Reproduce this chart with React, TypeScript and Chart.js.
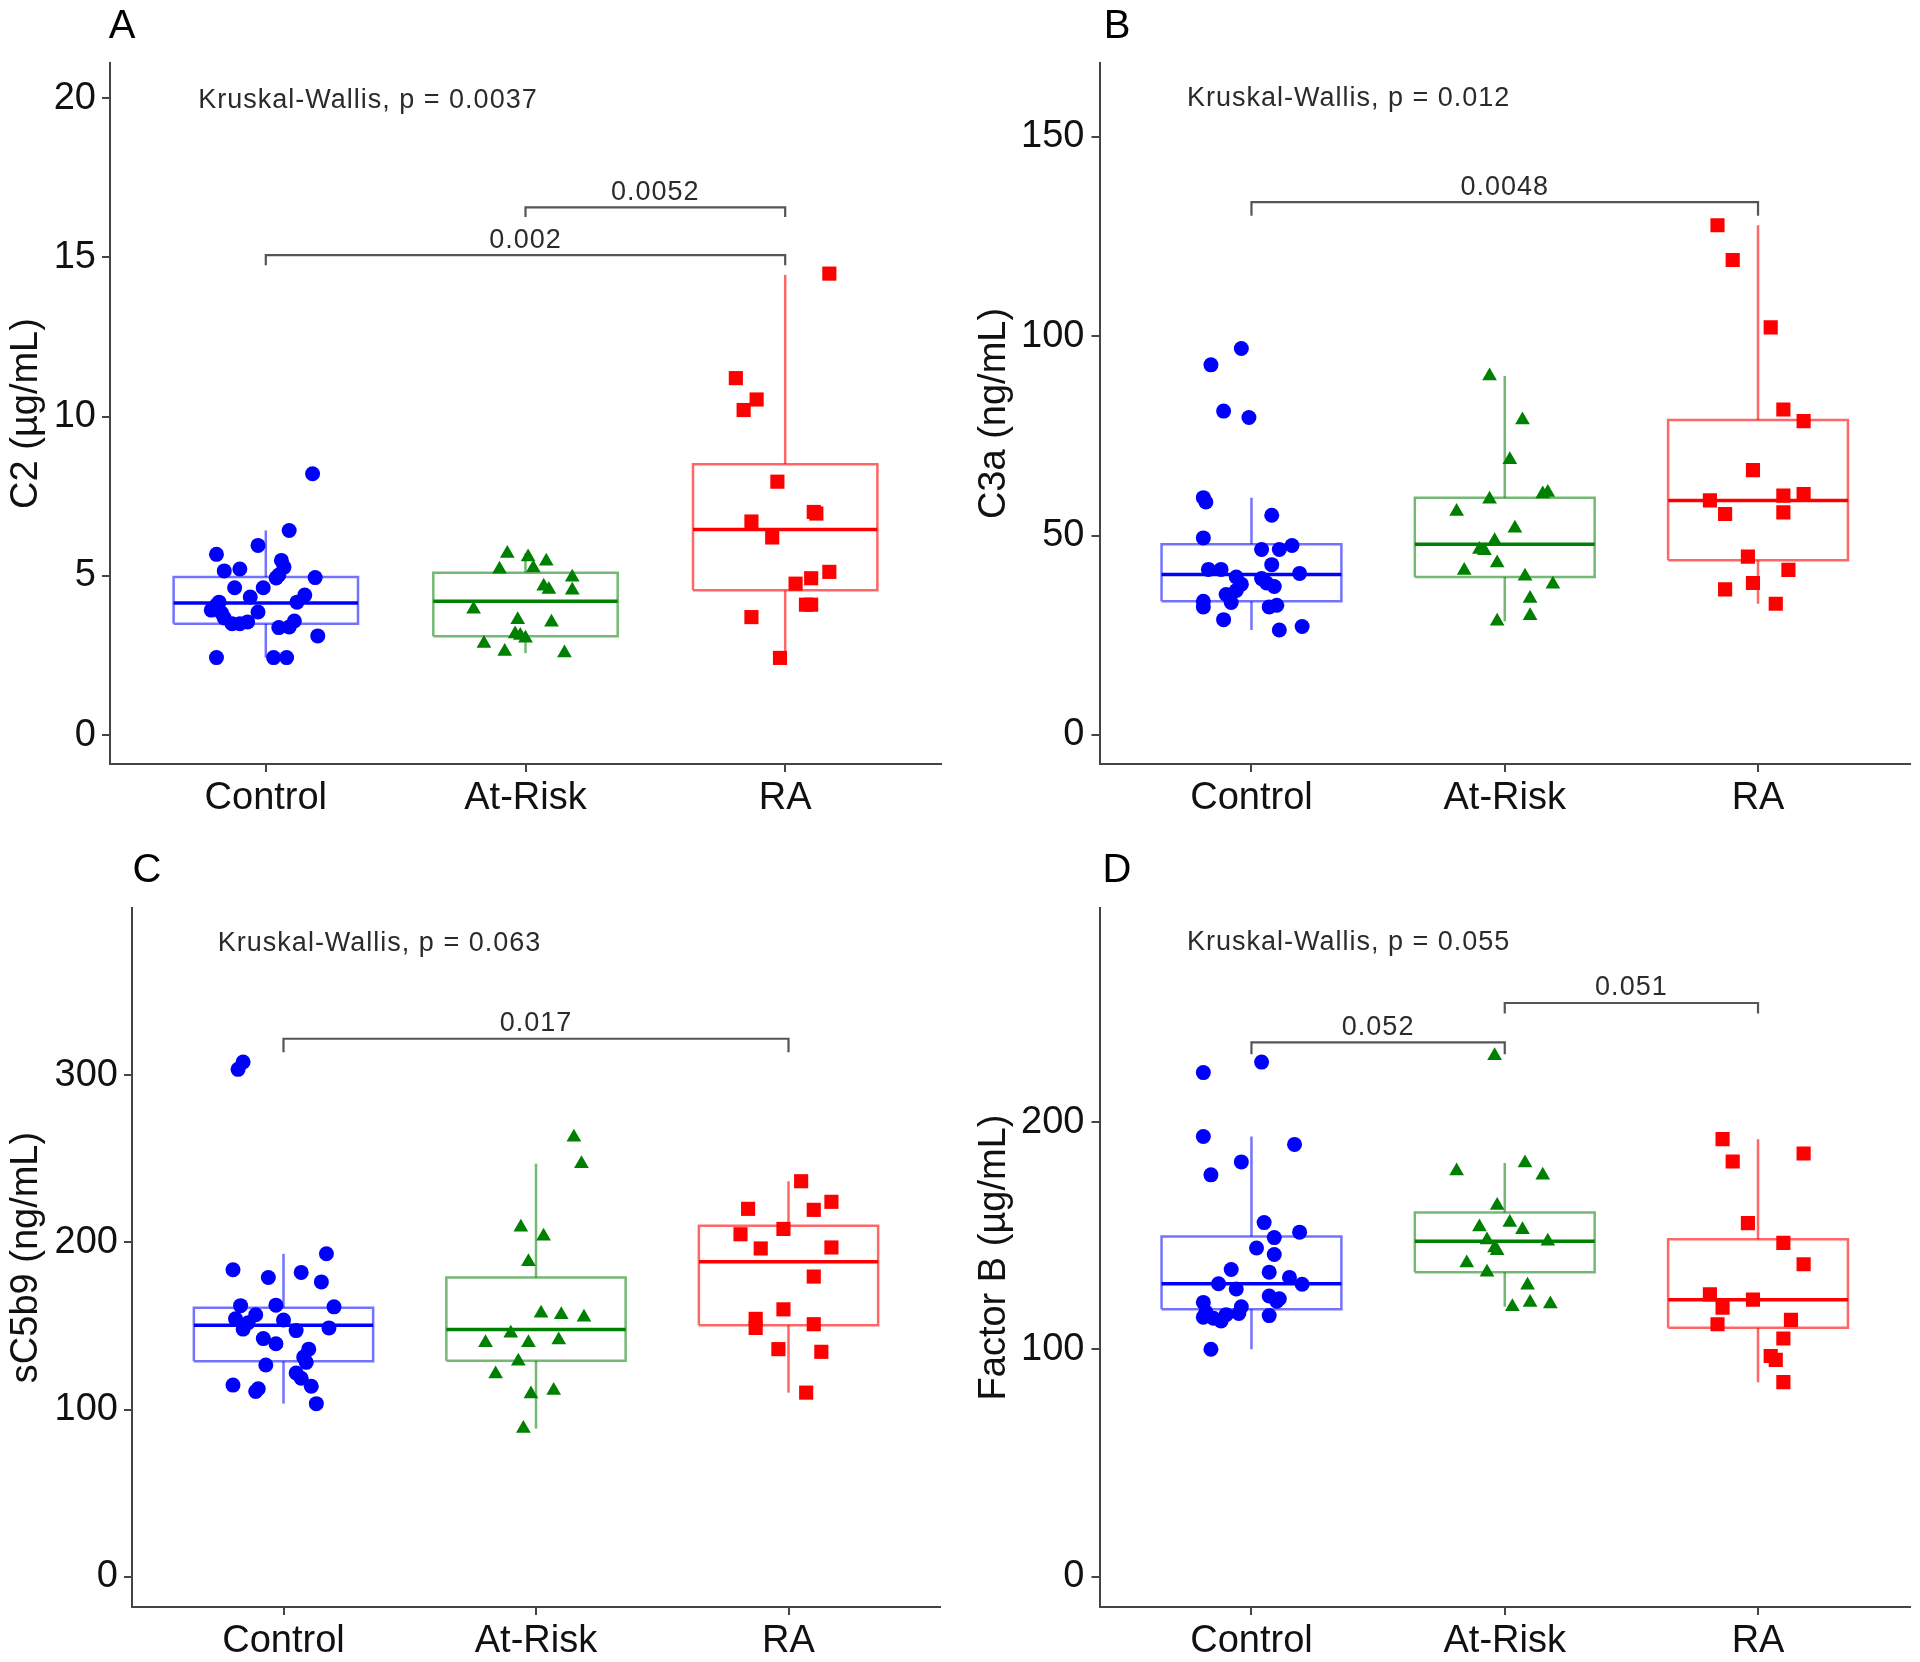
import React, { useEffect, useRef } from 'react';
import { Chart, registerables } from 'chart.js';

Chart.register(...registerables);

// ---------- shared ----------
const groups = ['Control', 'At-Risk', 'RA'];
const groupColors = ['#0000FF', '#008000', '#FF0000'];
const groupBoxColors = ['rgba(0,0,255,0.55)', 'rgba(0,128,0,0.55)', 'rgba(255,0,0,0.6)'];
const groupShapes = ['circle', 'triangle', 'rect'];
const groupRadius = [7.5, 8.5, 10];
const boxHalfWidth = 0.355;
const FONT = '"Liberation Sans", Arial, Helvetica, sans-serif';

// ---------- Panel A : C2 ----------
const c2ControlY = [8.21, 6.43, 5.96, 5.68, 5.49, 5.28, 5.22, 5.16, 5.03, 4.95, 4.94, 4.63, 4.63, 4.40, 4.34, 4.18, 4.18, 4.09, 3.93, 3.87, 3.84, 3.68, 3.59, 3.56, 3.50, 3.50, 3.40, 3.38, 3.12, 2.44, 2.44, 2.44];
const c2ControlJitter = [0.18, 0.09, -0.03, -0.19, 0.06, 0.07, -0.10, -0.16, 0.05, 0.19, 0.04, -0.12, -0.01, 0.15, -0.06, -0.18, 0.12, -0.19, -0.21, -0.03, -0.17, -0.16, 0.11, -0.07, -0.13, -0.10, 0.09, 0.05, 0.20, -0.19, 0.03, 0.08];
const c2AtRiskY = [5.71, 5.60, 5.46, 5.21, 5.25, 4.96, 4.68, 4.58, 4.55, 3.96, 3.63, 3.55, 3.18, 3.13, 3.05, 2.88, 2.63, 2.58];
const c2AtRiskJitter = [-0.07, 0.01, 0.08, -0.10, 0.03, 0.18, 0.07, 0.09, 0.18, -0.20, -0.03, 0.10, -0.04, -0.02, 0.0, -0.16, -0.08, 0.15];
const c2RaY = [14.49, 11.21, 10.54, 10.21, 7.96, 7.01, 6.96, 6.71, 6.21, 5.13, 4.93, 4.76, 4.10, 4.10, 3.71, 2.43];
const c2RaJitter = [0.17, -0.19, -0.11, -0.16, -0.03, 0.11, 0.12, -0.13, -0.05, 0.17, 0.10, 0.04, 0.08, 0.10, -0.13, -0.02];
const c2Q1 = [3.50, 3.11, 4.55];
const c2Median = [4.15, 4.21, 6.46];
const c2Q3 = [4.97, 5.10, 8.51];
const c2Low = [2.44, 2.58, 2.43];
const c2High = [6.43, 5.71, 14.45];
const c2Ticks = [0, 5, 10, 15, 20];
const c2BracketFrom = [1, 2];
const c2BracketTo = [3, 3];
const c2BracketY = [15.07, 16.57];
const c2BracketTip = [14.75, 16.27];
const c2BracketLabels = ['0.002', '0.0052'];

// ---------- Panel B : C3a ----------
const c3aControlY = [96.9, 92.8, 81.2, 79.6, 59.5, 58.4, 55.1, 49.4, 46.5, 47.5, 46.5, 41.5, 41.5, 42.7, 40.5, 39.6, 39.2, 37.8, 36.2, 37.2, 38.1, 33.2, 33.5, 32.1, 32.1, 32.5, 28.9, 26.3, 27.2, 35.2];
const c3aControlJitter = [-0.04, -0.16, -0.11, -0.01, -0.19, -0.18, 0.08, -0.19, 0.11, 0.16, 0.04, -0.17, -0.12, 0.08, 0.19, -0.06, 0.04, -0.04, -0.06, 0.09, 0.06, -0.08, -0.19, -0.19, 0.07, 0.10, -0.11, 0.11, 0.20, -0.10];
const c3aAtRiskY = [90.0, 79.0, 69.0, 60.8, 60.4, 59.1, 56.0, 51.8, 48.7, 46.5, 46.2, 43.1, 41.2, 39.8, 37.8, 34.2, 28.5, 29.9];
const c3aAtRiskJitter = [-0.06, 0.07, 0.02, 0.17, 0.15, -0.06, -0.19, 0.04, -0.04, -0.10, -0.08, -0.03, -0.16, 0.08, 0.19, 0.10, -0.03, 0.10];
const c3aRaY = [127.8, 119.1, 102.2, 81.6, 78.7, 66.4, 58.8, 60.0, 60.4, 55.4, 55.8, 44.7, 41.4, 38.1, 36.5, 32.9];
const c3aRaJitter = [-0.16, -0.10, 0.05, 0.10, 0.18, -0.02, -0.19, 0.10, 0.18, -0.13, 0.10, -0.04, 0.12, -0.02, -0.13, 0.07];
const c3aQ1 = [33.5, 39.6, 43.8];
const c3aMedian = [40.2, 47.8, 58.8];
const c3aQ3 = [47.8, 59.5, 79.0];
const c3aLow = [26.3, 28.5, 32.9];
const c3aHigh = [59.5, 90.0, 127.8];
const c3aTicks = [0, 50, 100, 150];
const c3aBracketFrom = [1];
const c3aBracketTo = [3];
const c3aBracketY = [133.6];
const c3aBracketTip = [130.2];
const c3aBracketLabels = ['0.0048'];

// ---------- Panel C : sC5b9 ----------
const sc5b9ControlY = [303.5, 307.9, 193.2, 183.7, 182.1, 179.0, 176.4, 162.2, 162.5, 161.5, 156.8, 154.3, 152.0, 153.6, 148.2, 147.3, 148.9, 142.5, 139.4, 136.2, 131.5, 128.3, 126.7, 121.9, 118.8, 114.7, 110.9, 114.0, 103.6, 112.5];
const sc5b9ControlJitter = [-0.18, -0.16, 0.17, -0.20, 0.07, -0.06, 0.15, -0.17, -0.03, 0.20, -0.11, -0.19, -0.14, 0.0, -0.16, 0.05, 0.18, -0.08, -0.03, 0.10, 0.08, 0.09, -0.07, 0.05, 0.07, -0.20, -0.11, 0.11, 0.13, -0.10];
const sc5b9AtRiskY = [262.9, 247.1, 209.1, 203.7, 188.5, 157.7, 156.8, 155.2, 145.7, 141.6, 140.0, 140.0, 128.9, 121.3, 109.3, 111.5, 88.7];
const sc5b9AtRiskJitter = [0.15, 0.18, -0.06, 0.03, -0.03, 0.02, 0.10, 0.19, -0.10, 0.09, -0.20, -0.03, -0.07, -0.16, -0.02, 0.07, -0.05];
const sc5b9RaY = [236.6, 224.3, 220.1, 219.5, 208.1, 204.9, 196.4, 197.0, 179.6, 160.0, 154.3, 148.9, 151.1, 136.2, 134.6, 110.2];
const sc5b9RaJitter = [0.05, 0.17, -0.16, 0.10, -0.02, -0.19, -0.11, 0.17, 0.10, -0.02, -0.13, -0.13, 0.10, -0.04, 0.13, 0.07];
const sc5b9Q1 = [128.9, 129.2, 150.5];
const sc5b9Median = [150.5, 147.9, 188.5];
const sc5b9Q3 = [160.9, 179.0, 210.0];
const sc5b9Low = [103.6, 88.7, 110.2];
const sc5b9High = [193.2, 247.1, 236.6];
const sc5b9Ticks = [0, 100, 200, 300];
const sc5b9BracketFrom = [1];
const sc5b9BracketTo = [3];
const sc5b9BracketY = [321.8];
const sc5b9BracketTip = [313.8];
const sc5b9BracketLabels = ['0.017'];

// ---------- Panel D : Factor B ----------
const fbControlY = [226.4, 221.8, 193.7, 190.2, 182.5, 176.8, 155.8, 151.6, 149.2, 144.6, 141.8, 135.2, 134.0, 131.7, 128.9, 128.7, 126.6, 123.5, 121.2, 120.7, 118.8, 116.5, 115.3, 113.7, 112.5, 114.9, 114.2, 100.1, 115.8, 122.3];
const fbControlJitter = [0.04, -0.19, -0.19, 0.17, -0.04, -0.16, 0.05, 0.19, 0.09, 0.02, 0.09, -0.08, 0.07, 0.15, -0.13, 0.20, -0.06, 0.07, 0.10, -0.19, -0.04, -0.18, -0.10, -0.15, -0.12, 0.07, -0.19, -0.16, -0.05, 0.11];
const fbAtRiskY = [229.2, 182.0, 178.5, 176.6, 163.3, 155.8, 153.9, 152.7, 148.1, 147.6, 143.4, 144.6, 138.0, 134.0, 128.2, 118.8, 120.7, 120.0];
const fbAtRiskJitter = [-0.04, 0.08, -0.19, 0.15, -0.03, 0.02, -0.10, 0.07, -0.07, 0.17, -0.03, -0.04, -0.15, -0.07, 0.09, 0.03, 0.10, 0.18];
const fbRaY = [192.5, 186.2, 182.7, 155.6, 146.9, 137.5, 124.2, 121.9, 118.4, 111.1, 113.0, 104.8, 97.1, 95.4, 85.6];
const fbRaJitter = [-0.14, 0.18, -0.10, -0.04, 0.10, 0.18, -0.19, -0.02, -0.14, -0.16, 0.13, 0.10, 0.05, 0.07, 0.10];
const fbQ1 = [117.7, 134.0, 109.5];
const fbMedian = [128.9, 147.6, 121.9];
const fbQ3 = [149.7, 160.2, 148.5];
const fbLow = [100.1, 118.8, 85.6];
const fbHigh = [193.7, 182.0, 192.5];
const fbTicks = [0, 100, 200];
const fbBracketFrom = [1, 2];
const fbBracketTo = [2, 3];
const fbBracketY = [235.1, 252.4];
const fbBracketTip = [229.9, 247.8];
const fbBracketLabels = ['0.052', '0.051'];

// ---------- panel definitions ----------
type PanelDef = {
  letter: string;
  yTitle: string;
  yMin: number;
  yMax: number;
  yTicks: number[];
  values: number[][];
  jitter: number[][];
  q1: number[];
  med: number[];
  q3: number[];
  lo: number[];
  hi: number[];
  kwText: string;
  kwX: number;
  kwY: number;
  bFrom: number[];
  bTo: number[];
  bY: number[];
  bTip: number[];
  bLabels: string[];
};

type PanelLayout = {
  left: number;
  top: number;
  w: number;
  h: number;
  chartLeft: number;
  chartRight: number;
  chartTop: number;
  chartBottom: number;
  titlePad: number;
  tickPad: number;
  letterX: number;
  letterY: number;
};

const panelA: PanelDef = {
  letter: 'A', yTitle: 'C2 (µg/mL)', yMin: -0.9, yMax: 21.1, yTicks: c2Ticks,
  values: [c2ControlY, c2AtRiskY, c2RaY], jitter: [c2ControlJitter, c2AtRiskJitter, c2RaJitter],
  q1: c2Q1, med: c2Median, q3: c2Q3, lo: c2Low, hi: c2High,
  kwText: 'Kruskal-Wallis, p = 0.0037', kwX: 0.74, kwY: 19.92,
  bFrom: c2BracketFrom, bTo: c2BracketTo, bY: c2BracketY, bTip: c2BracketTip, bLabels: c2BracketLabels,
};
const panelB: PanelDef = {
  letter: 'B', yTitle: 'C3a (ng/mL)', yMin: -7.3, yMax: 168.5, yTicks: c3aTicks,
  values: [c3aControlY, c3aAtRiskY, c3aRaY], jitter: [c3aControlJitter, c3aAtRiskJitter, c3aRaJitter],
  q1: c3aQ1, med: c3aMedian, q3: c3aQ3, lo: c3aLow, hi: c3aHigh,
  kwText: 'Kruskal-Wallis, p = 0.012', kwX: 0.745, kwY: 159.5,
  bFrom: c3aBracketFrom, bTo: c3aBracketTo, bY: c3aBracketY, bTip: c3aBracketTip, bLabels: c3aBracketLabels,
};
const panelC: PanelDef = {
  letter: 'C', yTitle: 'sC5b9 (ng/mL)', yMin: -18.0, yMax: 400.0, yTicks: sc5b9Ticks,
  values: [sc5b9ControlY, sc5b9AtRiskY, sc5b9RaY], jitter: [sc5b9ControlJitter, sc5b9AtRiskJitter, sc5b9RaJitter],
  q1: sc5b9Q1, med: sc5b9Median, q3: sc5b9Q3, lo: sc5b9Low, hi: sc5b9High,
  kwText: 'Kruskal-Wallis, p = 0.063', kwX: 0.74, kwY: 378.8,
  bFrom: sc5b9BracketFrom, bTo: sc5b9BracketTo, bY: sc5b9BracketY, bTip: sc5b9BracketTip, bLabels: sc5b9BracketLabels,
};
const panelD: PanelDef = {
  letter: 'D', yTitle: 'Factor B (µg/mL)', yMin: -13.3, yMax: 294.2, yTicks: fbTicks,
  values: [fbControlY, fbAtRiskY, fbRaY], jitter: [fbControlJitter, fbAtRiskJitter, fbRaJitter],
  q1: fbQ1, med: fbMedian, q3: fbQ3, lo: fbLow, hi: fbHigh,
  kwText: 'Kruskal-Wallis, p = 0.055', kwX: 0.745, kwY: 278.8,
  bFrom: fbBracketFrom, bTo: fbBracketTo, bY: fbBracketY, bTip: fbBracketTip, bLabels: fbBracketLabels,
};

const layoutA: PanelLayout = { left: 0, top: 2, w: 960, h: 831, chartLeft: 110, chartRight: 941, chartTop: 61, chartBottom: 762, titlePad: 4, tickPad: 6, letterX: 122, letterY: 25 };
const layoutB: PanelLayout = { left: 960, top: 2, w: 960, h: 831, chartLeft: 139.5, chartRight: 950, chartTop: 61, chartBottom: 762, titlePad: 11.5, tickPad: 7, letterX: 157, letterY: 25 };
const layoutC: PanelLayout = { left: 0, top: 833, w: 960, h: 829, chartLeft: 132, chartRight: 940, chartTop: 75, chartBottom: 774, titlePad: 4, tickPad: 6, letterX: 147, letterY: 38 };
const layoutD: PanelLayout = { left: 960, top: 833, w: 960, h: 829, chartLeft: 139.5, chartRight: 950, chartTop: 75, chartBottom: 774, titlePad: 11.5, tickPad: 7, letterX: 157, letterY: 38 };

function lineDs(points: number[][], color: string, width: number) {
  return {
    type: 'scatter',
    data: points.map(([x, y]) => ({ x, y })),
    showLine: true,
    borderColor: color,
    backgroundColor: color,
    borderWidth: width,
    pointRadius: 0,
    pointHoverRadius: 0,
    fill: false,
    tension: 0,
    order: 2,
  };
}

const annotationPlugin = {
  id: 'panelText',
  afterDatasetsDraw(chart: any, _args: any, opts: any) {
    const { ctx } = chart;
    const xs = chart.scales.x;
    const ys = chart.scales.y;
    const d: PanelDef = opts.def;
    const L: PanelLayout = opts.layout;
    ctx.save();
    ctx.fillStyle = '#2b2b2b';
    ctx.textBaseline = 'middle';
    (ctx as any).letterSpacing = '1px';
    ctx.font = `27px ${FONT}`;
    ctx.textAlign = 'left';
    ctx.fillText(d.kwText, xs.getPixelForValue(d.kwX), ys.getPixelForValue(d.kwY));
    ctx.textAlign = 'center';
    d.bLabels.forEach((lab, i) => {
      const cx = xs.getPixelForValue((d.bFrom[i] + d.bTo[i]) / 2);
      const cy = ys.getPixelForValue(d.bY[i]) - 15;
      ctx.fillText(lab, cx, cy);
    });
    (ctx as any).letterSpacing = '0px';
    ctx.fillStyle = '#000000';
    ctx.font = `40px ${FONT}`;
    ctx.fillText(d.letter, L.letterX, L.letterY);
    ctx.restore();
  },
};

function buildConfig(d: PanelDef, L: PanelLayout): any {
  const datasets: any[] = [];
  d.values.forEach((vals, g) => {
    datasets.push({
      type: 'scatter',
      label: groups[g],
      data: vals.map((v, i) => ({ x: g + 1 + d.jitter[g][i], y: v })),
      pointStyle: groupShapes[g],
      pointRadius: groupRadius[g],
      pointHoverRadius: groupRadius[g],
      backgroundColor: groupColors[g],
      borderColor: groupColors[g],
      borderWidth: 0,
      order: 0,
    });
  });
  d.q1.forEach((q1, g) => {
    const c = g + 1;
    const w = boxHalfWidth;
    const q3 = d.q3[g];
    datasets.push(lineDs([[c - w, q1], [c + w, q1], [c + w, q3], [c - w, q3], [c - w, q1]], groupBoxColors[g], 2.5));
    datasets.push(lineDs([[c, q3], [c, d.hi[g]]], groupBoxColors[g], 2.5));
    datasets.push(lineDs([[c, d.lo[g]], [c, q1]], groupBoxColors[g], 2.5));
    const med = lineDs([[c - w, d.med[g]], [c + w, d.med[g]]], groupColors[g], 3.5);
    med.order = 1;
    datasets.push(med);
  });
  d.bFrom.forEach((from, i) => {
    const to = d.bTo[i];
    datasets.push(lineDs([[from, d.bTip[i]], [from, d.bY[i]], [to, d.bY[i]], [to, d.bTip[i]]], '#555555', 2.2));
  });

  return {
    type: 'scatter',
    data: { datasets },
    plugins: [annotationPlugin],
    options: {
      responsive: false,
      devicePixelRatio: 1,
      animation: false,
      events: [],
      layout: { padding: { left: 0, top: L.chartTop, right: L.w - L.chartRight, bottom: 0 } },
      plugins: {
        legend: { display: false },
        tooltip: { enabled: false },
        panelText: { def: d, layout: L },
      },
      scales: {
        x: {
          type: 'linear',
          min: 0.4,
          max: 3.6,
          afterFit: (s: any) => { s.height = L.h - L.chartBottom; },
          afterBuildTicks: (s: any) => { s.ticks = groups.map((_, i) => ({ value: i + 1 })); },
          ticks: {
            autoSkip: false,
            maxRotation: 0,
            padding: 4,
            color: '#111111',
            font: { family: FONT, size: 38 },
            callback: (v: any) => groups[Math.round(Number(v)) - 1] ?? '',
          },
          grid: { drawOnChartArea: false, drawTicks: true, tickLength: 8, color: '#444444', lineWidth: 2 },
          border: { display: true, color: '#444444', width: 2 },
        },
        y: {
          type: 'linear',
          min: d.yMin,
          max: d.yMax,
          afterFit: (s: any) => { s.width = L.chartLeft; },
          afterBuildTicks: (s: any) => { s.ticks = d.yTicks.map((v) => ({ value: v })); },
          ticks: {
            padding: L.tickPad,
            color: '#111111',
            font: { family: FONT, size: 38 },
            callback: (v: any) => String(v),
          },
          title: {
            display: true,
            text: d.yTitle,
            color: '#111111',
            font: { family: FONT, size: 38 },
            padding: { top: L.titlePad, bottom: 0 },
          },
          grid: { drawOnChartArea: false, drawTicks: true, tickLength: 8, color: '#444444', lineWidth: 2 },
          border: { display: true, color: '#444444', width: 2 },
        },
      },
    },
  };
}

function Panel({ def, layout }: { def: PanelDef; layout: PanelLayout }) {
  const ref = useRef<HTMLCanvasElement>(null);
  useEffect(() => {
    const chart = new Chart(ref.current as HTMLCanvasElement, buildConfig(def, layout));
    return () => chart.destroy();
  }, [def, layout]);
  return (
    <canvas
      ref={ref}
      width={layout.w}
      height={layout.h}
      style={{ position: 'absolute', left: layout.left, top: layout.top, width: layout.w, height: layout.h, display: 'block' }}
    />
  );
}

export default function App() {
  return (
    <div style={{ position: 'absolute', left: 0, top: 0, width: 1920, height: 1662, background: '#ffffff', overflow: 'hidden' }}>
      <Panel def={panelA} layout={layoutA} />
      <Panel def={panelB} layout={layoutB} />
      <Panel def={panelC} layout={layoutC} />
      <Panel def={panelD} layout={layoutD} />
    </div>
  );
}
